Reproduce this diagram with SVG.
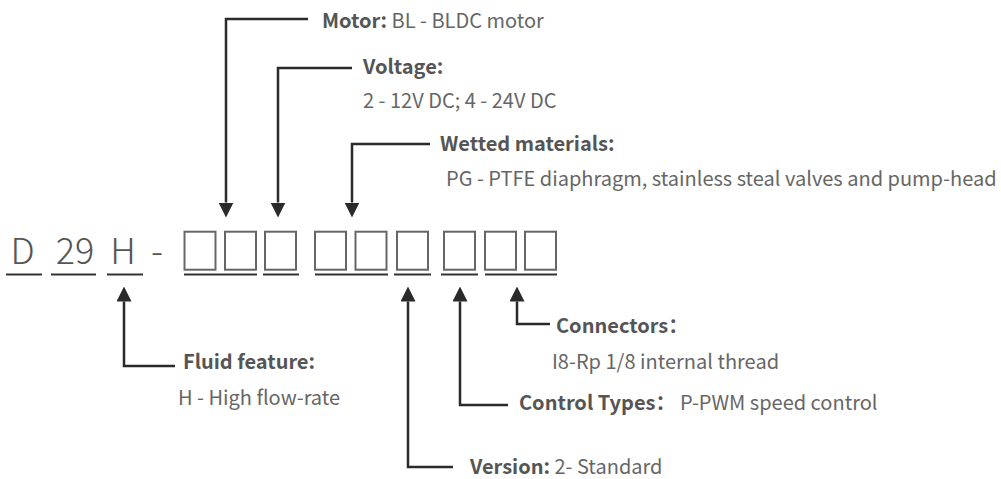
<svg xmlns="http://www.w3.org/2000/svg" width="1001" height="479" viewBox="0 0 1001 479">
<defs>
<style>
text{font-family:"Noto Sans CJK SC","Noto Sans",sans-serif;font-size:20px;fill:#666}
.b{font-weight:700;fill:#555}
.code{font-size:36px;font-weight:300;fill:#555;text-anchor:middle}
.box{fill:none;stroke:#666;stroke-width:2}
.ul{stroke:#333;stroke-width:2.2}
.conn{fill:none;stroke:#2a2a2a;stroke-width:2.5}
</style>
<marker id="ah" viewBox="0 0 15 15" refX="0" refY="7.5" markerWidth="15" markerHeight="15" markerUnits="userSpaceOnUse" orient="auto">
<path d="M0,0 L15,7.5 L0,15 z" fill="#2a2a2a"/>
</marker>
</defs>
<rect width="1001" height="479" fill="#fff"/>
<g id="code">
<text class="code" x="22.5" y="264">D</text>
<text class="code" x="75" y="264">29</text>
<text class="code" x="123" y="264">H</text>
<text class="code" x="157" y="264">-</text>
<rect class="box" x="184.5" y="231.7" width="31" height="38"/>
<rect class="box" x="225" y="231.7" width="31" height="38"/>
<rect class="box" x="265" y="231.7" width="31" height="38"/>
<rect class="box" x="315" y="231.7" width="31" height="38"/>
<rect class="box" x="355.5" y="231.7" width="31" height="38"/>
<rect class="box" x="397" y="231.7" width="31" height="38"/>
<rect class="box" x="444" y="231.7" width="31" height="38"/>
<rect class="box" x="485" y="231.7" width="31" height="38"/>
<rect class="box" x="525" y="231.7" width="31" height="38"/>
<line class="ul" x1="6" y1="274.5" x2="42" y2="274.5"/>
<line class="ul" x1="51" y1="274.5" x2="96" y2="274.5"/>
<line class="ul" x1="107" y1="274.5" x2="143" y2="274.5"/>
<line class="ul" x1="184" y1="274.5" x2="257" y2="274.5"/>
<line class="ul" x1="263" y1="274.5" x2="299" y2="274.5"/>
<line class="ul" x1="315" y1="274.5" x2="388" y2="274.5"/>
<line class="ul" x1="394" y1="274.5" x2="431" y2="274.5"/>
<line class="ul" x1="441" y1="274.5" x2="478" y2="274.5"/>
<line class="ul" x1="485" y1="274.5" x2="557" y2="274.5"/>
</g>
<g id="connectors">
<path class="conn" d="M308,19 H226 V202.5" marker-end="url(#ah)"/>
<path class="conn" d="M352,68 H278 V202.5" marker-end="url(#ah)"/>
<path class="conn" d="M430,144 H352 V202.5" marker-end="url(#ah)"/>
<path class="conn" d="M175,366 H124 V301.5" marker-end="url(#ah)"/>
<path class="conn" d="M453,467 H408 V301.5" marker-end="url(#ah)"/>
<path class="conn" d="M508,405 H460 V301.5" marker-end="url(#ah)"/>
<path class="conn" d="M550,324 H517 V301.5" marker-end="url(#ah)"/>
</g>
<g id="motor">
<text x="322" y="28"><tspan class="b">Motor:</tspan> BL - BLDC motor</text>
</g>
<g id="voltage">
<text class="b" x="363" y="74">Voltage:</text>
<text x="363" y="108">2 - 12V DC; 4 - 24V DC</text>
</g>
<g id="wetted">
<text class="b" x="440" y="151">Wetted materials:</text>
<text x="446" y="186">PG - PTFE diaphragm, stainless steal valves and pump-head</text>
</g>
<g id="fluid">
<text class="b" x="183" y="369">Fluid feature:</text>
<text x="178" y="405">H - High flow-rate</text>
</g>
<g id="connectors-label">
<text class="b" x="556" y="333">Connectors：</text>
<text x="552" y="369">I8-Rp 1/8 internal thread</text>
</g>
<g id="control">
<text class="b" x="519" y="410">Control Types：</text>
<text x="680" y="410">P-PWM speed control</text>
</g>
<g id="version">
<text x="470" y="474"><tspan class="b">Version:</tspan> 2- Standard</text>
</g>
</svg>
